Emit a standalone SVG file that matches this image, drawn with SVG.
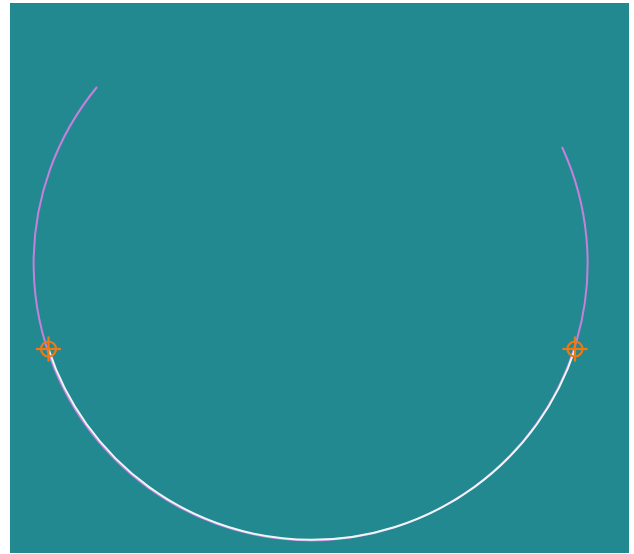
<svg xmlns="http://www.w3.org/2000/svg" width="634" height="554" viewBox="0 0 634 554">
<style>
.arc{fill:none;stroke-width:2;stroke-linecap:butt}
.p{stroke:#C67FDC}
.w{stroke:#EAF8F6}
.mk{fill:none;stroke:#F07A12;stroke-width:2.2}
</style>
<rect x="0" y="0" width="634" height="554" fill="#ffffff"/>
<rect x="10" y="3" width="619" height="550" fill="#238990"/>
<g id="connectors">
<path class="arc p" d="M97 87 A277 277 0 1 0 562 147"/>
<path class="arc w" d="M48.5 349 A277 277 0 0 0 575 349"/>
</g>
<g id="marker-left" class="mk">
<circle cx="48.5" cy="349" r="7.5"/>
<line x1="36" y1="349" x2="61" y2="349"/>
<line x1="48.5" y1="336.5" x2="48.5" y2="361.5"/>
</g>
<g id="marker-right" class="mk">
<circle cx="575" cy="349" r="7.5"/>
<line x1="562.5" y1="349" x2="587.5" y2="349"/>
<line x1="575" y1="336.5" x2="575" y2="361.5"/>
</g>
</svg>
